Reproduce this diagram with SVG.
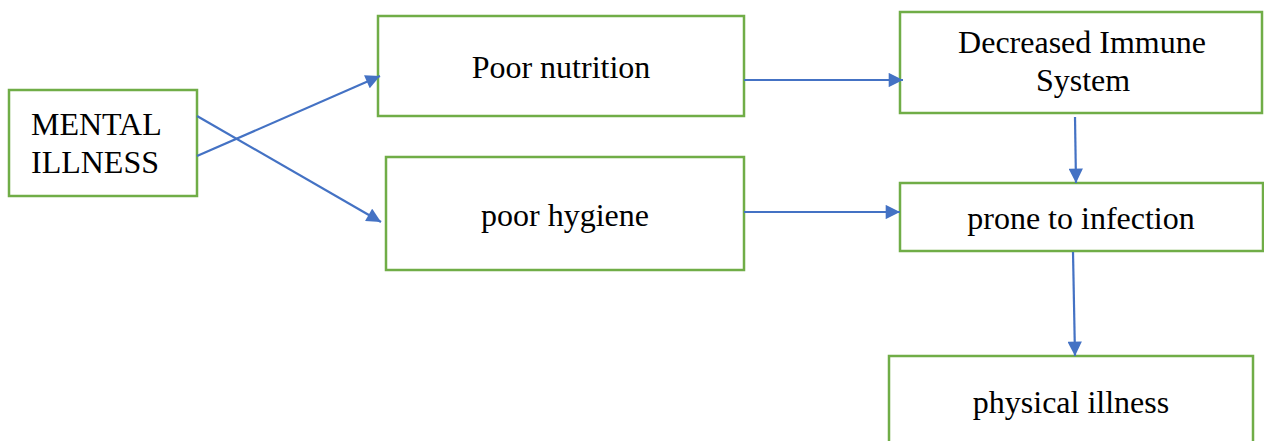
<svg xmlns="http://www.w3.org/2000/svg" width="1264" height="441" viewBox="0 0 1264 441">
<style>
.box{fill:#fff;stroke:#70AD47;stroke-width:2.5}
.lbl{font-family:"Liberation Serif","Times New Roman",serif;font-size:32px;fill:#000}
.c{text-anchor:middle}
.conn{stroke:#4472C4;stroke-width:2.2;fill:none;marker-end:url(#ah)}
</style>
<defs>
<marker id="ah" viewBox="0 0 10 10" refX="10" refY="5" markerWidth="7" markerHeight="6.5" markerUnits="strokeWidth" orient="auto">
<path d="M0,0 L10,5 L0,10 Z" fill="#4472C4"/>
</marker>
</defs>
<g id="n-mental"><rect class="box" x="9" y="90" width="188" height="106"/><text class="lbl" x="31" y="135">MENTAL</text><text class="lbl" x="31" y="173">ILLNESS</text></g>
<g id="n-nutrition"><rect class="box" x="378" y="16" width="366" height="100"/><text class="lbl c" x="561" y="78">Poor nutrition</text></g>
<g id="n-hygiene"><rect class="box" x="386" y="157" width="358" height="113"/><text class="lbl c" x="565" y="226">poor hygiene</text></g>
<g id="n-immune"><rect class="box" x="900" y="12" width="362" height="101"/><text class="lbl c" x="1082" y="53">Decreased Immune</text><text class="lbl c" x="1083" y="91">System</text></g>
<g id="n-infection"><rect class="box" x="900" y="183" width="363" height="68"/><text class="lbl c" x="1081" y="229">prone to infection</text></g>
<g id="n-physical"><rect class="box" x="889" y="356" width="364" height="95"/><text class="lbl c" x="1071" y="413">physical illness</text></g>
<g id="connectors">
<line class="conn" x1="197" y1="156" x2="380" y2="76"/>
<line class="conn" x1="197" y1="116" x2="381" y2="222"/>
<line class="conn" x1="744" y1="80" x2="903" y2="80"/>
<line class="conn" x1="744" y1="212" x2="900" y2="212"/>
<line class="conn" x1="1075" y1="117" x2="1076" y2="183"/>
<line class="conn" x1="1073" y1="252" x2="1075" y2="356"/>
</g>
</svg>
